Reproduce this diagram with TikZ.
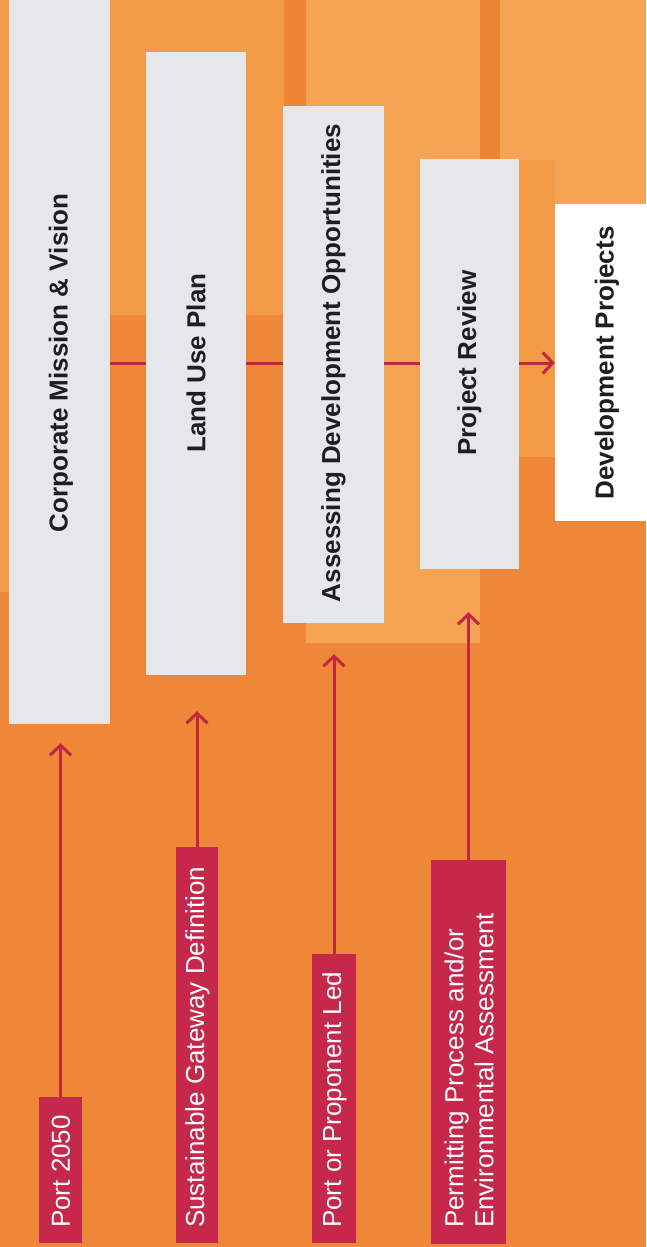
\documentclass[tikz,border=0pt]{standalone}
\usepackage{fontspec}
\setmainfont{Liberation Sans}
\usetikzlibrary{arrows.meta}
\definecolor{bgbase}{HTML}{EE8737}
\definecolor{bglight}{HTML}{F29A46}
\definecolor{bglighter}{HTML}{F5A454}
\definecolor{bgstripe}{HTML}{EC8634}
\definecolor{boxgray}{HTML}{E5E7EB}
\definecolor{crim}{HTML}{C3263F}
\definecolor{labfill}{HTML}{C5284B}
\definecolor{titletext}{HTML}{1E1E1E}
\tikzset{
  stagebox/.style={draw=none, fill=boxgray, rectangle, inner sep=0pt},
  finalbox/.style={draw=none, fill=white, rectangle, inner sep=0pt},
  labbox/.style={draw=none, fill=labfill, rectangle, inner sep=0pt},
  titletxt/.style={rotate=90, inner sep=0pt, text=titletext, font=\bfseries\fontsize{26}{30}\selectfont},
  labtxt/.style={rotate=90, inner sep=0pt, anchor=west, text=white, align=left, font=\fontsize{26}{30}\selectfont},
  conn/.style={draw=crim, line width=3pt},
  arr/.style={conn, -{Straight Barb[length=10pt,width=21pt]}},
}
\begin{document}
\begin{tikzpicture}[x=1pt,y=-1pt]
\useasboundingbox (0,0) rectangle (646,1247);
% background
\fill[bgbase] (0,0) rectangle (646,1247);
\fill[bglight] (0,0) rectangle (9,592);
\fill[bglight] (110,0) rectangle (284,315);
\fill[bgstripe] (284,0) rectangle (306,315);
\fill[bglighter] (306,0) rectangle (480,643);
\fill[bgstripe] (480,0) rectangle (500,457);
\fill[bglighter] (500,0) rectangle (646,457);
\fill[bglight] (500,160) rectangle (555,457);

\coordinate (m) at (0,363);

% stage boxes
\node[stagebox, minimum width=101pt, minimum height=724pt] (b1) at (59.5,362) {};
\node[stagebox, minimum width=100pt, minimum height=623pt] (b2) at (196,363.5) {};
\node[stagebox, minimum width=101pt, minimum height=517pt] (b3) at (333.5,364.5) {};
\node[stagebox, minimum width=99pt, minimum height=410pt] (b4) at (469.5,364) {};
\node[finalbox, minimum width=100pt, minimum height=317pt] (b5) at (605,362.5) {};

\draw[conn] (b1.east |- m) -- (b2.west |- m);
\draw[conn] (b2.east |- m) -- (b3.west |- m);
\draw[conn] (b3.east |- m) -- (b4.west |- m);
\draw[arr] (b4.east |- m) -- (b5.west |- m);

\node[titletxt] (t1) at (61,363) {Corporate Mission \& Vision};
\node[titletxt] (t2) at (196,363) {Land Use Plan};
\node[titletxt] (t3) at (333.5,363) {Assessing Development Opportunities};
\node[titletxt] (t4) at (469.5,363) {Project Review};
\node[titletxt] (t5) at (607,363) {Development Projects};

% input labels
\node[labbox, minimum width=43pt, minimum height=146pt] (l1) at (60.5,1170) {};
\node[labbox, minimum width=42pt, minimum height=396pt] (l2) at (197,1045) {};
\node[labbox, minimum width=44pt, minimum height=289pt] (l3) at (334,1098.5) {};
\node[labbox, minimum width=75pt, minimum height=384pt] (l4) at (468.5,1052) {};

\node[labtxt] (lt1) at (61,1228) {Port 2050};
\node[labtxt] (lt2) at (197.5,1228) {Sustainable Gateway Definition};
\node[labtxt] (lt3) at (334.5,1228) {Port or Proponent Led};
\node[labtxt] (lt4) at (469,1228) {Permitting Process and/or\\Environmental Assessment};

\draw[arr, shorten >=19pt] (l1.north) -- (l1.north |- b1.south);
\draw[arr, shorten >=36pt] (l2.north) -- (l2.north |- b2.south);
\draw[arr, shorten >=31pt] (l3.north) -- (l3.north |- b3.south);
\draw[arr, shorten >=43pt] (l4.north) -- (l4.north |- b4.south);
\end{tikzpicture}
\end{document}
